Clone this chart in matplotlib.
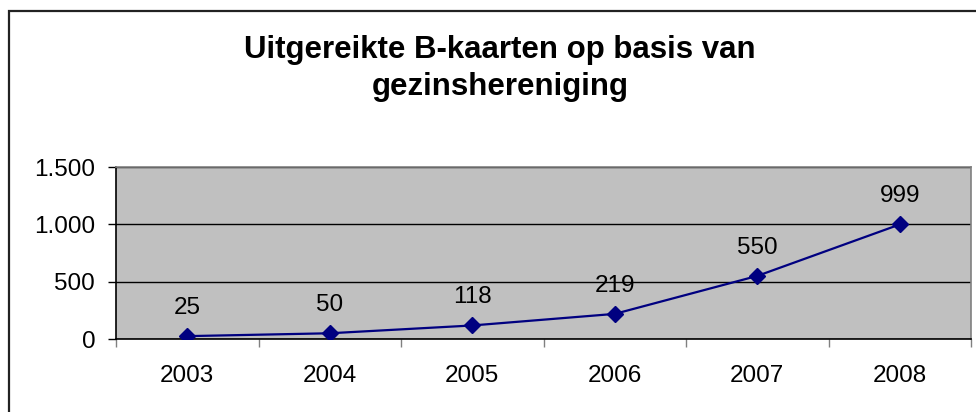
import matplotlib
matplotlib.use("agg")
import matplotlib.pyplot as plt
from matplotlib.patches import Rectangle

years = ["2003", "2004", "2005", "2006", "2007", "2008"]
counts = [25, 50, 118, 219, 550, 999]
yticks = [0, 500, 1000, 1500]
ylabels = ["0", "500", "1.000", "1.500"]

plt.rcParams["font.family"] = ["Liberation Sans", "DejaVu Sans"]

W, H = 976, 412
fig = plt.figure(figsize=(W / 100, H / 100), dpi=100)

# chart area border (cropped on right and bottom)
fig.patches.append(Rectangle((8.5 / W, -0.1), 1.2, 1 - 10.5 / H + 0.1,
                             transform=fig.transFigure, fill=False,
                             edgecolor="#222222", linewidth=1.6))

ax = fig.add_axes([116 / W, 1 - 339 / H, (971 - 116) / W, (339 - 167) / H])
ax.set_facecolor("#c0c0c0")
for s in ax.spines.values():
	s.set_color("#808080")
	s.set_linewidth(1.2)
ax.spines["left"].set_color("black")
ax.spines["bottom"].set_color("black")

x = list(range(len(years)))
ax.plot(x, counts, color="#000080", linewidth=1.6, marker="D", markersize=8, zorder=3)
for xi, v in zip(x, counts):
	ax.annotate(str(v), (xi, v), xytext=(0, 16), textcoords="offset points",
				ha="center", va="baseline", fontsize=17.5)

ax.set_xlim(-0.5, len(years) - 0.5)
ax.set_ylim(0, 1500)
ax.set_yticks(yticks)
ax.set_yticklabels(ylabels, fontsize=17.5)
ax.yaxis.grid(True, color="black", linewidth=1)
ax.set_axisbelow(True)
ax.tick_params(axis="y", length=6, width=1, pad=9)

ax.set_xticks([i - 0.5 for i in range(len(years) + 1)])
ax.set_xticklabels([])
ax.set_xticks(x, minor=True)
ax.set_xticklabels(years, minor=True, fontsize=17.5)
ax.tick_params(axis="x", which="major", length=6, width=1, color="#808080")
ax.tick_params(axis="x", which="minor", length=0, pad=19)

fig.text(500 / W, 1 - 95 / H, "Uitgereikte B-kaarten op basis van\ngezinshereniging",
		 ha="center", va="baseline", fontsize=22.5, fontweight="bold", linespacing=1.3)

plt.savefig("out.png", dpi=100)
